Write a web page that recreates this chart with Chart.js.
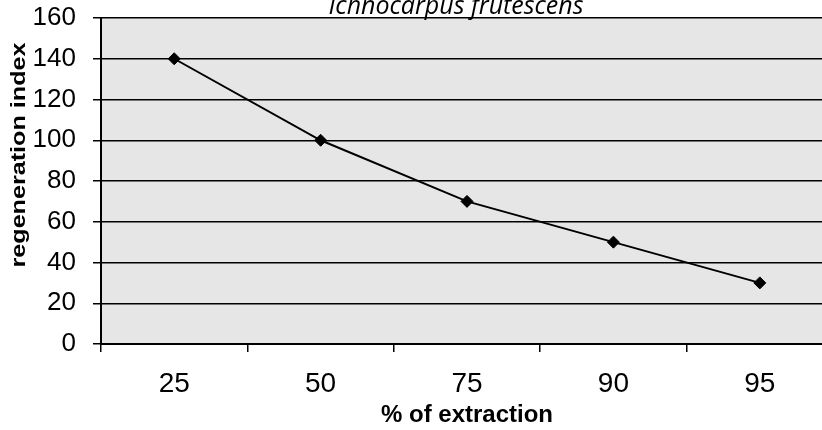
<!DOCTYPE html>
<html>
<head>
<meta charset="utf-8">
<script src="https://cdn.jsdelivr.net/npm/chart.js@4"></script>
<style>
html,body{margin:0;padding:0;background:#fff;overflow:hidden;}
#wrap{width:840px;height:430px;}
</style>
</head>
<body>
<div id="wrap"><canvas id="c" width="840" height="430"></canvas></div>
<script>
const categories = ['25', '50', '75', '90', '95'];
const regenerationIndex = [140, 100, 70, 50, 30];
const chartTitle = 'Ichnocarpus frutescens';
const xTitle = '% of extraction';
const yTitle = 'regeneration index';

const decor = {
  id: 'decor',
  beforeDraw(chart) {
    const {ctx, chartArea: a} = chart;
    ctx.save();
    ctx.fillStyle = '#e6e6e6';
    ctx.fillRect(a.left, a.top, a.right - a.left, a.bottom - a.top);
    ctx.restore();
  },
  afterDraw(chart) {
    const {ctx} = chart;
    ctx.save();
    ctx.font = 'italic 25px "Open Sans", "Liberation Sans", sans-serif';
    ctx.fillStyle = '#000';
    ctx.textAlign = 'center';
    ctx.textBaseline = 'alphabetic';
    ctx.fillText(chartTitle, 456, 14);
    ctx.restore();

    // y axis title (stretched along its length like the reference)
    ctx.save();
    ctx.font = 'bold 20px "Liberation Sans", Arial, sans-serif';
    ctx.fillStyle = '#000';
    ctx.textAlign = 'center';
    ctx.textBaseline = 'middle';
    const w = ctx.measureText(yTitle).width;
    ctx.translate(19, 155);
    ctx.rotate(-Math.PI / 2);
    ctx.scale(225 / w, 1);
    ctx.fillText(yTitle, 0, 0);
    ctx.restore();
  }
};

const noPad = s => { s.paddingTop = 0; s.paddingBottom = 0; s.paddingLeft = 0; s.paddingRight = 0; };

new Chart(document.getElementById('c'), {
  type: 'line',
  data: {
    labels: categories,
    datasets: [{
      data: regenerationIndex,
      borderColor: '#000',
      backgroundColor: '#000',
      borderWidth: 2,
      pointStyle: 'rectRot',
      pointRadius: 6,
      pointBorderWidth: 1,
      tension: 0
    }]
  },
  options: {
    responsive: false,
    animation: false,
    layout: {padding: {top: 18, left: 0, right: 5, bottom: 0}},
    plugins: {legend: {display: false}, tooltip: {enabled: false}},
    scales: {
      x: {
        offset: true,
        grid: {offset: true, drawOnChartArea: false, drawTicks: true, tickLength: 8, color: '#000', lineWidth: 1.5},
        border: {color: '#000', width: 2},
        ticks: {color: '#000', font: {family: 'Liberation Sans, Arial, sans-serif', size: 28}, padding: 15, maxRotation: 0},
        title: {display: true, text: xTitle, color: '#000', font: {family: 'Liberation Sans, Arial, sans-serif', size: 24, weight: 'bold'}, padding: {top: 0, bottom: 0}},
        afterFit(s) { s.height = 86; noPad(s); }
      },
      y: {
        min: 0, max: 160,
        grid: {color: '#000', lineWidth: 1.5, drawTicks: true, tickLength: 8},
        border: {color: '#000', width: 2},
        ticks: {stepSize: 20, color: '#000', font: {family: 'Liberation Sans, Arial, sans-serif', size: 26}, padding: 17},
        title: {display: false, text: yTitle},
        afterFit(s) { s.width = 101; noPad(s); }
      }
    }
  },
  plugins: [decor]
});
</script>
</body>
</html>
